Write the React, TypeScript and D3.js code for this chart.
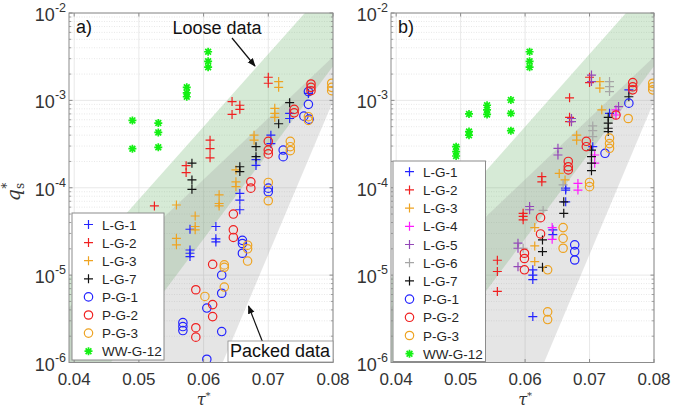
import React from 'react'
import * as d3 from 'd3'

type Pt = [number, number]
type Shape = 'plus' | 'circle' | 'star'

const tauTicks = [0.04, 0.05, 0.06, 0.07, 0.08]
const qDecades = [-6, -5, -4, -3, -2]

// band edges, [tau, q]
const looseUpper: Pt[] = [[0.0392, 9.3e-6], [0.08, 2.3e-2]]
const looseLower: Pt[] = [[0.0392, 2.3e-7], [0.08, 2.45e-3]]
const packedUpper: Pt[] = [[0.0392, 4.3e-6], [0.08, 3.16e-3]]
const packedLower: Pt[] = [[0.0392, 6.8e-11], [0.08, 9.8e-4]]

// ---- panel a)
const aLG1: Pt[] = [[0.0704, 4.0e-4], [0.0704, 3.2e-4], [0.0681, 2.1e-4], [0.0681, 1.8e-4], [0.0733, 7.1e-4], [0.0733, 6.2e-4],
  [0.0762, 1.2e-3], [0.0656, 8.6e-5], [0.0656, 7.2e-5], [0.0656, 5.6e-5], [0.0619, 3.6e-5], [0.0619, 2.6e-5], [0.0619, 2.4e-5],
  [0.0579, 3.35e-5], [0.0579, 1.94e-5], [0.0579, 1.78e-5], [0.0579, 1.63e-5]]
const aLG2: Pt[] = [[0.07, 1.84e-3], [0.07, 1.57e-3], [0.0644, 9.7e-4], [0.0644, 6.9e-4], [0.0656, 8.8e-4], [0.0656, 7.9e-4],
  [0.061, 3.5e-4], [0.061, 2.8e-4], [0.061, 2.2e-4], [0.0573, 1.79e-4], [0.0573, 1.49e-4], [0.0524, 6.2e-5]]
const aLG3: Pt[] = [[0.0716, 1.64e-3], [0.0716, 1.41e-3], [0.071, 8.1e-4], [0.071, 7.1e-4], [0.071, 6.4e-4], [0.0678, 4.0e-4],
  [0.0678, 3.5e-4], [0.065, 1.6e-4], [0.065, 1.17e-4], [0.065, 1.03e-4], [0.0624, 8.3e-5], [0.0624, 6.6e-5], [0.0624, 6.2e-5],
  [0.0558, 6.35e-5], [0.0558, 2.64e-5], [0.0558, 2.22e-5], [0.0587, 4.75e-5], [0.0587, 3.6e-5], [0.0587, 3.3e-5]]
const aLG7: Pt[] = [[0.0733, 9.4e-4], [0.0716, 5.4e-4], [0.0681, 2.95e-4], [0.0681, 2.27e-4], [0.0656, 1.74e-4], [0.0656, 1.53e-4],
  [0.0582, 1.91e-4], [0.0582, 1.23e-4], [0.0582, 9.6e-5]]
const aPG1: Pt[] = [[0.0762, 1.26e-3], [0.0762, 9.0e-4], [0.0755, 6.6e-4], [0.0763, 6.1e-4], [0.0723, 2.7e-4], [0.0723, 2.27e-4],
  [0.07, 9.9e-5], [0.07, 9.0e-5], [0.066, 2.5e-5], [0.066, 2.3e-5], [0.066, 1.78e-5], [0.0628, 1.0e-5], [0.0628, 6.2e-6],
  [0.0605, 4.2e-6], [0.0605, 1.09e-6], [0.0568, 2.86e-6], [0.0568, 2.58e-6], [0.0568, 2.32e-6], [0.0628, 2.26e-6]]
const aPG2: Pt[] = [[0.0766, 1.54e-3], [0.0766, 1.41e-3], [0.0766, 1.29e-3], [0.074, 7.9e-4], [0.074, 7.2e-4], [0.07, 3.4e-4],
  [0.07, 2.7e-4], [0.07, 2.44e-4], [0.0673, 1.17e-4], [0.0673, 9.9e-5], [0.0646, 5.0e-5], [0.0646, 3.3e-5], [0.0646, 2.7e-5],
  [0.0614, 1.33e-5], [0.0614, 4.6e-6], [0.0614, 3.35e-6], [0.0588, 6.8e-6], [0.0588, 2.5e-6], [0.0588, 1.95e-6]]
const aPG3: Pt[] = [[0.0798, 1.57e-3], [0.0798, 1.41e-3], [0.0798, 1.29e-3], [0.0762, 6.5e-4], [0.0762, 5.9e-4], [0.0734, 3.4e-4],
  [0.0734, 2.95e-4], [0.0734, 2.66e-4], [0.07, 1.15e-4], [0.07, 7.1e-5], [0.0668, 2.2e-5], [0.0668, 2.0e-5], [0.0668, 1.45e-5],
  [0.0632, 1.31e-5], [0.0632, 1.23e-5], [0.0632, 7.3e-6], [0.0602, 5.7e-6]]
const aWW12: Pt[] = [[0.049, 5.9e-4], [0.049, 2.8e-4], [0.053, 5.5e-4], [0.053, 4.3e-4], [0.053, 2.9e-4], [0.0574, 1.41e-3],
  [0.0574, 1.22e-3], [0.0574, 1.1e-3], [0.0607, 3.6e-3], [0.0607, 2.8e-3], [0.0607, 2.4e-3]]

// ---- panel b)
const bLG1: Pt[] = [[0.0705, 2.95e-4], [0.0731, 7.1e-4], [0.0761, 1.32e-3], [0.0663, 9.9e-5], [0.0663, 9.4e-5], [0.0663, 6.9e-5],
  [0.0643, 3.3e-5], [0.0643, 2.9e-5], [0.0612, 1.15e-5], [0.0612, 1.0e-5], [0.0612, 8.9e-6], [0.0612, 3.35e-6]]
const bLG2: Pt[] = [[0.0669, 1.07e-3], [0.0669, 6.4e-4], [0.0669, 5.7e-4], [0.07, 1.84e-3], [0.07, 1.6e-3], [0.0626, 1.34e-4],
  [0.0626, 1.17e-4], [0.0597, 5.1e-5], [0.0597, 4.7e-5], [0.0597, 4.3e-5], [0.0557, 1.48e-5], [0.0557, 1.1e-5], [0.0557, 6.5e-6]]
const bLG3: Pt[] = [[0.0716, 1.64e-3], [0.0716, 1.38e-3], [0.0719, 7.8e-4], [0.068, 4.0e-4], [0.068, 3.5e-4], [0.0653, 1.46e-4],
  [0.0662, 1.23e-4], [0.0615, 3.5e-5], [0.0615, 2.16e-5], [0.0615, 1.43e-5]]
const bLG4: Pt[] = [[0.0708, 2.37e-4], [0.0708, 1.91e-4], [0.0682, 1.12e-4], [0.0682, 9.4e-5], [0.0741, 7.8e-4], [0.0741, 6.8e-4],
  [0.0642, 3.5e-5], [0.0642, 2.57e-5]]
const bLG5: Pt[] = [[0.0703, 1.95e-3], [0.0703, 1.64e-3], [0.0672, 6.2e-4], [0.0672, 5.7e-4], [0.0651, 2.83e-4], [0.0651, 2.37e-4],
  [0.0745, 8.5e-4], [0.0607, 6.1e-5], [0.0607, 5.6e-5], [0.0589, 2.32e-5], [0.0589, 2.03e-5], [0.0589, 1.25e-5]]
const bLG6: Pt[] = [[0.0731, 1.64e-3], [0.0731, 1.44e-3], [0.0731, 1.26e-3], [0.0705, 5.1e-4], [0.0705, 4.5e-4], [0.0705, 3.85e-4],
  [0.0659, 1.08e-4], [0.0628, 5.5e-5], [0.0597, 2.03e-5]]
const bLG7: Pt[] = [[0.0729, 6.4e-4], [0.0729, 5.5e-4], [0.0729, 4.8e-4], [0.0729, 4.4e-4], [0.0703, 2.7e-4], [0.0703, 2.27e-4],
  [0.0703, 1.91e-4], [0.0703, 1.57e-4], [0.0761, 1.1e-3], [0.066, 6.9e-5], [0.066, 5.1e-5], [0.0627, 2.53e-5], [0.0627, 1.86e-5],
  [0.0627, 1.23e-5]]
const bPG1: Pt[] = [[0.0761, 9.3e-4], [0.0724, 2.48e-4], [0.0677, 2.22e-5], [0.0677, 1.86e-5], [0.0677, 1.49e-5]]
const bPG2: Pt[] = [[0.0767, 1.6e-3], [0.0767, 1.43e-3], [0.0767, 1.32e-3], [0.0741, 6.8e-4], [0.0695, 3.4e-4], [0.0695, 2.95e-4],
  [0.0667, 2.0e-4], [0.0667, 1.74e-4], [0.0667, 1.6e-4], [0.0624, 4.55e-5], [0.0624, 2.96e-5], [0.0599, 1.78e-5],
  [0.0599, 1.55e-5], [0.0599, 1.15e-5]]
const bPG3: Pt[] = [[0.0798, 1.57e-3], [0.0798, 1.43e-3], [0.0798, 1.32e-3], [0.076, 6.2e-4], [0.0731, 3.7e-4], [0.0731, 3.2e-4],
  [0.0731, 2.83e-4], [0.07, 1.15e-4], [0.07, 1.03e-4], [0.0659, 3.5e-5], [0.0659, 2.64e-5], [0.0659, 2.03e-5], [0.0635, 1.15e-5],
  [0.0635, 3.8e-6], [0.0635, 3.1e-6]]
const bWW12: Pt[] = [[0.0493, 2.95e-4], [0.0493, 2.59e-4], [0.0493, 2.31e-4], [0.0513, 7.0e-4], [0.0513, 4.4e-4], [0.0513, 4.0e-4],
  [0.0541, 8.8e-4], [0.0541, 7.8e-4], [0.0541, 6.9e-4], [0.0578, 1.01e-3], [0.0578, 7.1e-4], [0.0578, 4.5e-4],
  [0.0607, 3.6e-3], [0.0607, 2.8e-3], [0.0607, 2.4e-3]]

const BLUE = '#2424ff'
const RED = '#f02020'
const ORANGE = '#eea321'
const MAGENTA = '#ff1aff'
const PURPLE = '#9448b8'
const GRAY = '#a6a6a6'
const BLACK = '#111111'
const GREEN = '#14f014'

interface Series { name: string; color: string; shape: Shape; data: Pt[] }

const seriesA: Series[] = [
  { name: 'L-G-1', color: BLUE, shape: 'plus', data: aLG1 },
  { name: 'L-G-2', color: RED, shape: 'plus', data: aLG2 },
  { name: 'L-G-3', color: ORANGE, shape: 'plus', data: aLG3 },
  { name: 'L-G-7', color: BLACK, shape: 'plus', data: aLG7 },
  { name: 'P-G-1', color: BLUE, shape: 'circle', data: aPG1 },
  { name: 'P-G-2', color: RED, shape: 'circle', data: aPG2 },
  { name: 'P-G-3', color: ORANGE, shape: 'circle', data: aPG3 },
  { name: 'WW-G-12', color: GREEN, shape: 'star', data: aWW12 },
]
const seriesB: Series[] = [
  { name: 'L-G-1', color: BLUE, shape: 'plus', data: bLG1 },
  { name: 'L-G-2', color: RED, shape: 'plus', data: bLG2 },
  { name: 'L-G-3', color: ORANGE, shape: 'plus', data: bLG3 },
  { name: 'L-G-4', color: MAGENTA, shape: 'plus', data: bLG4 },
  { name: 'L-G-5', color: PURPLE, shape: 'plus', data: bLG5 },
  { name: 'L-G-6', color: GRAY, shape: 'plus', data: bLG6 },
  { name: 'L-G-7', color: BLACK, shape: 'plus', data: bLG7 },
  { name: 'P-G-1', color: BLUE, shape: 'circle', data: bPG1 },
  { name: 'P-G-2', color: RED, shape: 'circle', data: bPG2 },
  { name: 'P-G-3', color: ORANGE, shape: 'circle', data: bPG3 },
  { name: 'WW-G-12', color: GREEN, shape: 'star', data: bWW12 },
]

const FONT = 'Liberation Sans, Arial, sans-serif'
const FRAME = '#8c8c8c'
const TOP = 13
const BOTTOM = 362.5

function Marker({ x, y, shape, color }: { x: number; y: number; shape: Shape; color: string }) {
  if (shape === 'circle') return <circle cx={x} cy={y} r={4.2} fill="none" stroke={color} strokeWidth={1.2} />
  const r = shape === 'plus' ? 4.5 : 4
  let d = `M${x - r},${y}H${x + r}M${x},${y - r}V${y + r}`
  if (shape === 'star') {
    const k = r * 0.72
    d += `M${x - k},${y - k}L${x + k},${y + k}M${x - k},${y + k}L${x + k},${y - k}`
  }
  return <path d={d} stroke={color} strokeWidth={shape === 'star' ? 1.7 : 1.2} fill="none" />
}

function Panel({ id, x0, x1, series, label, legend }: {
  id: string; x0: number; x1: number; series: Series[]; label: string
  legend: { x: number; y: number; w: number; h: number; first: number; step: number }
}) {
  const x = d3.scaleLinear().domain([0.0392, 0.08]).range([x0, x1])
  const y = d3.scaleLog().domain([1e-6, 1e-2]).range([BOTTOM, TOP])
  const line = d3.line<Pt>().x(d => x(d[0])).y(d => y(d[1]))
  const band = (up: Pt[], lo: Pt[]) => line([...up, ...lo.slice().reverse()]) + 'Z'
  const minor: number[] = []
  qDecades.slice(0, 4).forEach(e => { for (let m = 2; m <= 9; m++) minor.push(m * Math.pow(10, e)) })
  const w = x1 - x0

  return (
    <g>
      <defs>
        <clipPath id={id}><rect x={x0} y={TOP} width={w} height={BOTTOM - TOP} /></clipPath>
      </defs>
      <rect x={x0} y={TOP} width={w} height={BOTTOM - TOP} fill="#fff" />
      {/* grid */}
      {minor.map(v => (
        <line key={'m' + v} x1={x0} x2={x1} y1={y(v)} y2={y(v)} stroke="#d8d8d8" strokeWidth={0.6} strokeDasharray="1,1.5" />
      ))}
      {qDecades.map(e => (
        <line key={'g' + e} x1={x0} x2={x1} y1={y(Math.pow(10, e))} y2={y(Math.pow(10, e))} stroke="#e2e2e2" strokeWidth={0.8} />
      ))}
      {tauTicks.map(t => (
        <line key={'v' + t} x1={x(t)} x2={x(t)} y1={TOP} y2={BOTTOM} stroke="#e2e2e2" strokeWidth={0.8} />
      ))}
      {/* bands */}
      <g clipPath={`url(#${id})`}>
        <path d={band(looseUpper, looseLower)} fill="#5aad5a" fillOpacity={0.25} />
        <path d={band(packedUpper, packedLower)} fill="#999" fillOpacity={0.26} />
      </g>
      {/* data */}
      <g clipPath={`url(#${id})`}>
        {series.map(s => s.data.map((p, i) => (
          <Marker key={s.name + i} x={x(p[0])} y={y(p[1])} shape={s.shape} color={s.color} />
        )))}
      </g>
      {/* frame + ticks */}
      <rect x={x0} y={TOP} width={w} height={BOTTOM - TOP} fill="none" stroke={FRAME} strokeWidth={1} />
      {tauTicks.map(t => (
        <g key={'t' + t}>
          <line x1={x(t)} x2={x(t)} y1={BOTTOM} y2={BOTTOM - 3.5} stroke={FRAME} />
          <line x1={x(t)} x2={x(t)} y1={TOP} y2={TOP + 3.5} stroke={FRAME} />
          <text x={x(t)} y={385} textAnchor="middle" fontSize={17} fontFamily={FONT} fill="#333">{d3.format('.2f')(t)}</text>
        </g>
      ))}
      {minor.map(v => (
        <g key={'mt' + v}>
          <line x1={x0} x2={x0 + 2.2} y1={y(v)} y2={y(v)} stroke={FRAME} strokeWidth={0.8} />
          <line x1={x1} x2={x1 - 2.2} y1={y(v)} y2={y(v)} stroke={FRAME} strokeWidth={0.8} />
        </g>
      ))}
      {qDecades.map(e => (
        <g key={'yt' + e}>
          <line x1={x0} x2={x0 + 3.5} y1={y(Math.pow(10, e))} y2={y(Math.pow(10, e))} stroke={FRAME} />
          <line x1={x1} x2={x1 - 3.5} y1={y(Math.pow(10, e))} y2={y(Math.pow(10, e))} stroke={FRAME} />
          <text x={x0 - 3} y={y(Math.pow(10, e)) + 8} textAnchor="end" fontFamily={FONT} fill="#333">
            <tspan fontSize={18}>10</tspan>
            <tspan fontSize={12.5} dy={-9}>{e}</tspan>
          </text>
        </g>
      ))}
      <text x={x0 + 7} y={33} fontSize={18} fontFamily={FONT} fill="#111">{label}</text>
      {/* x label */}
      <text x={x(0.06)} y={405} textAnchor="middle" fontFamily="DejaVu Serif, serif" fill="#333">
        <tspan fontSize={16} fontStyle="italic">τ</tspan>
        <tspan fontSize={10} dy={-6}>*</tspan>
      </text>
      {/* legend */}
      <rect x={legend.x} y={legend.y} width={legend.w} height={legend.h} fill="#fff" stroke={FRAME} strokeWidth={1} />
      {series.map((s, i) => {
        const ly = legend.first + i * legend.step
        return (
          <g key={'lg' + s.name}>
            <Marker x={legend.x + 16.5} y={ly} shape={s.shape} color={s.color} />
            <text x={legend.x + 30} y={ly + 5} fontSize={13.5} fontFamily={FONT} fill="#262626">{s.name}</text>
          </g>
        )
      })}
    </g>
  )
}

export default function App() {
  return (
    <svg width={673} height={411} style={{ position: 'absolute', left: 0, top: 0, background: '#fff' }}>
      <Panel id="clipA" x0={69} x1={333} series={seriesA} label="a)"
        legend={{ x: 72, y: 213, w: 92, h: 147, first: 224.5, step: 18.1 }} />
      <Panel id="clipB" x0={391} x1={654} series={seriesB} label="b)"
        legend={{ x: 393, y: 161, w: 92.5, h: 200.5, first: 171.7, step: 18.2 }} />
      {/* annotations, panel a */}
      <text x={217} y={34} textAnchor="middle" fontSize={18} fontFamily={FONT} fill="#111">Loose data</text>
      <defs>
        <marker id="ah" viewBox="0 0 10 10" refX={9} refY={5} markerWidth={7} markerHeight={7} orient="auto">
          <path d="M0,1L10,5L0,9Z" fill="#111" />
        </marker>
      </defs>
      <line x1={232} y1={38} x2={255} y2={66} stroke="#111" strokeWidth={1.2} markerEnd="url(#ah)" />
      <line x1={263} y1={343} x2={248.5} y2={306} stroke="#111" strokeWidth={1.2} markerEnd="url(#ah)" />
      <rect x={228} y={341} width={105} height={21} fill="#fff" stroke={FRAME} strokeWidth={0.8} />
      <text x={280} y={357} textAnchor="middle" fontSize={18} fontFamily={FONT} fill="#111">Packed data</text>
      {/* y label */}
      <text transform="translate(20,192) rotate(-90)" textAnchor="middle" fontFamily="DejaVu Serif, serif" fill="#333">
        <tspan fontSize={19} fontStyle="italic">q</tspan>
        <tspan fontSize={12} dy={4}>s</tspan>
        <tspan fontSize={12} dx={-6} dy={-13}>*</tspan>
      </text>
    </svg>
  )
}
